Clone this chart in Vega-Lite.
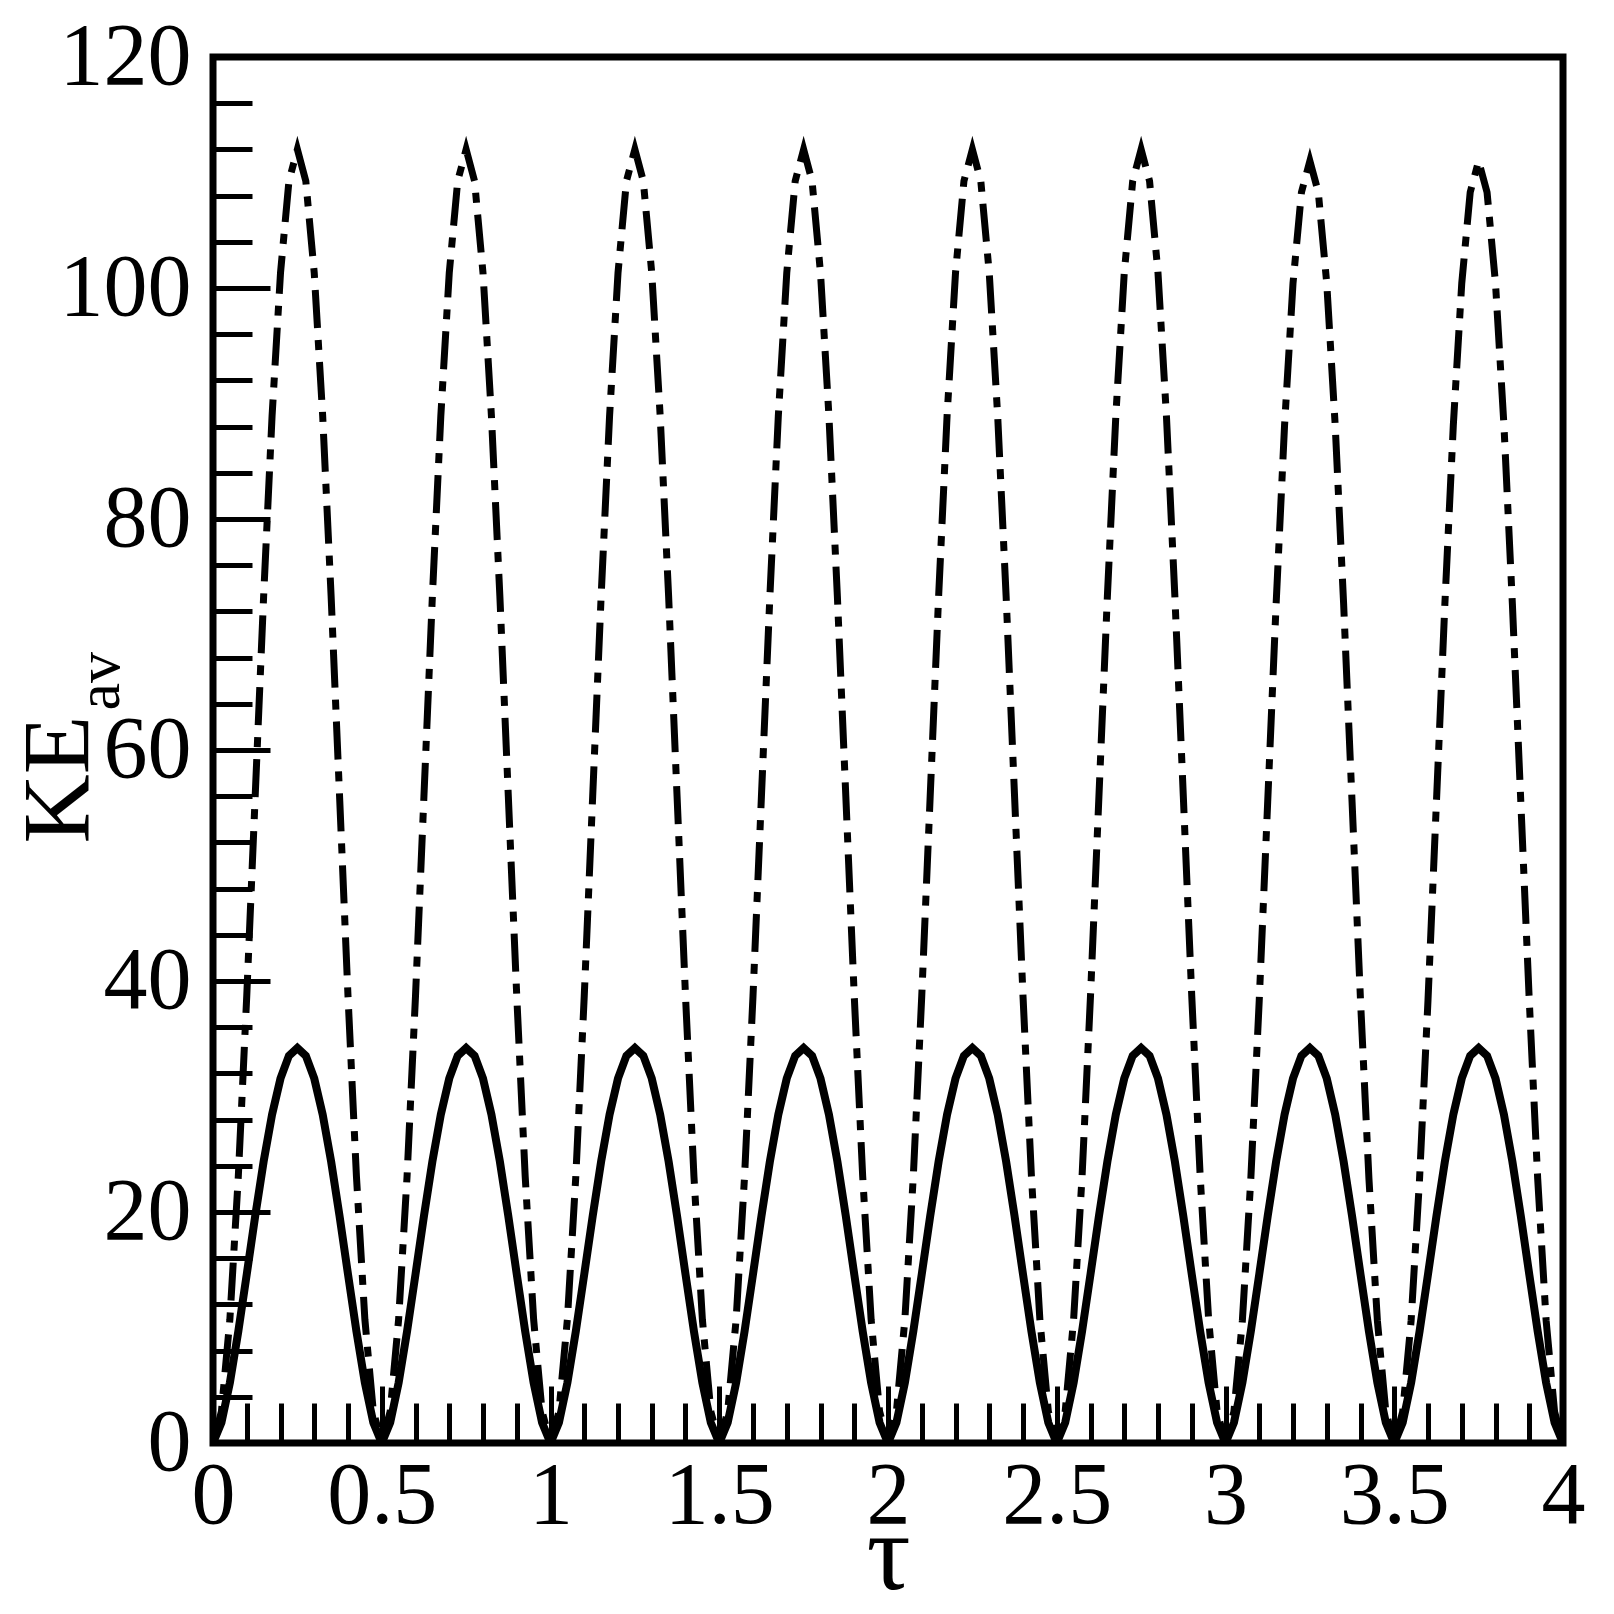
{
  "$schema": "https://vega.github.io/schema/vega-lite/v6.json",
  "width": 1350,
  "height": 1386,
  "autosize": "none",
  "padding": {"left": 213, "top": 57, "right": 51, "bottom": 171},
  "background": "white",
  "config": {
    "view": {"stroke": "black", "strokeWidth": 7},
    "font": "Liberation Serif"
  },
  "data": {
    "values": [
      {"t": 0, "s": 0, "d": 0},
      {"t": 0.025, "s": 1.76, "d": 2.74},
      {"t": 0.05, "s": 5.22, "d": 10.7},
      {"t": 0.075, "s": 9.67, "d": 23.09},
      {"t": 0.1, "s": 14.61, "d": 38.7},
      {"t": 0.125, "s": 19.64, "d": 56},
      {"t": 0.15, "s": 24.37, "d": 73.3},
      {"t": 0.175, "s": 28.43, "d": 88.91},
      {"t": 0.2, "s": 31.56, "d": 101.3},
      {"t": 0.225, "s": 33.53, "d": 109.26},
      {"t": 0.25, "s": 34.2, "d": 112},
      {"t": 0.275, "s": 33.53, "d": 109.26},
      {"t": 0.3, "s": 31.56, "d": 101.3},
      {"t": 0.325, "s": 28.43, "d": 88.91},
      {"t": 0.35, "s": 24.37, "d": 73.3},
      {"t": 0.375, "s": 19.64, "d": 56},
      {"t": 0.4, "s": 14.61, "d": 38.7},
      {"t": 0.425, "s": 9.67, "d": 23.09},
      {"t": 0.45, "s": 5.22, "d": 10.7},
      {"t": 0.475, "s": 1.76, "d": 2.74},
      {"t": 0.5, "s": 0, "d": 0},
      {"t": 0.525, "s": 1.76, "d": 2.74},
      {"t": 0.55, "s": 5.22, "d": 10.7},
      {"t": 0.575, "s": 9.67, "d": 23.09},
      {"t": 0.6, "s": 14.61, "d": 38.7},
      {"t": 0.625, "s": 19.64, "d": 56},
      {"t": 0.65, "s": 24.37, "d": 73.3},
      {"t": 0.675, "s": 28.43, "d": 88.91},
      {"t": 0.7, "s": 31.56, "d": 101.3},
      {"t": 0.725, "s": 33.53, "d": 109.26},
      {"t": 0.75, "s": 34.2, "d": 112},
      {"t": 0.775, "s": 33.53, "d": 109.26},
      {"t": 0.8, "s": 31.56, "d": 101.3},
      {"t": 0.825, "s": 28.43, "d": 88.91},
      {"t": 0.85, "s": 24.37, "d": 73.3},
      {"t": 0.875, "s": 19.64, "d": 56},
      {"t": 0.9, "s": 14.61, "d": 38.7},
      {"t": 0.925, "s": 9.67, "d": 23.09},
      {"t": 0.95, "s": 5.22, "d": 10.7},
      {"t": 0.975, "s": 1.76, "d": 2.74},
      {"t": 1, "s": 0, "d": 0},
      {"t": 1.025, "s": 1.76, "d": 2.74},
      {"t": 1.05, "s": 5.22, "d": 10.7},
      {"t": 1.075, "s": 9.67, "d": 23.09},
      {"t": 1.1, "s": 14.61, "d": 38.7},
      {"t": 1.125, "s": 19.64, "d": 56},
      {"t": 1.15, "s": 24.37, "d": 73.3},
      {"t": 1.175, "s": 28.43, "d": 88.91},
      {"t": 1.2, "s": 31.56, "d": 101.3},
      {"t": 1.225, "s": 33.53, "d": 109.26},
      {"t": 1.25, "s": 34.2, "d": 112},
      {"t": 1.275, "s": 33.53, "d": 109.26},
      {"t": 1.3, "s": 31.56, "d": 101.3},
      {"t": 1.325, "s": 28.43, "d": 88.91},
      {"t": 1.35, "s": 24.37, "d": 73.3},
      {"t": 1.375, "s": 19.64, "d": 56},
      {"t": 1.4, "s": 14.61, "d": 38.7},
      {"t": 1.425, "s": 9.67, "d": 23.09},
      {"t": 1.45, "s": 5.22, "d": 10.7},
      {"t": 1.475, "s": 1.76, "d": 2.74},
      {"t": 1.5, "s": 0, "d": 0},
      {"t": 1.525, "s": 1.76, "d": 2.74},
      {"t": 1.55, "s": 5.22, "d": 10.7},
      {"t": 1.575, "s": 9.67, "d": 23.09},
      {"t": 1.6, "s": 14.61, "d": 38.7},
      {"t": 1.625, "s": 19.64, "d": 56},
      {"t": 1.65, "s": 24.37, "d": 73.3},
      {"t": 1.675, "s": 28.43, "d": 88.91},
      {"t": 1.7, "s": 31.56, "d": 101.3},
      {"t": 1.725, "s": 33.53, "d": 109.26},
      {"t": 1.75, "s": 34.2, "d": 112},
      {"t": 1.775, "s": 33.53, "d": 109.26},
      {"t": 1.8, "s": 31.56, "d": 101.3},
      {"t": 1.825, "s": 28.43, "d": 88.91},
      {"t": 1.85, "s": 24.37, "d": 73.3},
      {"t": 1.875, "s": 19.64, "d": 56},
      {"t": 1.9, "s": 14.61, "d": 38.7},
      {"t": 1.925, "s": 9.67, "d": 23.09},
      {"t": 1.95, "s": 5.22, "d": 10.7},
      {"t": 1.975, "s": 1.76, "d": 2.74},
      {"t": 2, "s": 0, "d": 0},
      {"t": 2.025, "s": 1.76, "d": 2.74},
      {"t": 2.05, "s": 5.22, "d": 10.7},
      {"t": 2.075, "s": 9.67, "d": 23.09},
      {"t": 2.1, "s": 14.61, "d": 38.7},
      {"t": 2.125, "s": 19.64, "d": 56},
      {"t": 2.15, "s": 24.37, "d": 73.3},
      {"t": 2.175, "s": 28.43, "d": 88.91},
      {"t": 2.2, "s": 31.56, "d": 101.3},
      {"t": 2.225, "s": 33.53, "d": 109.26},
      {"t": 2.25, "s": 34.2, "d": 112},
      {"t": 2.275, "s": 33.53, "d": 109.26},
      {"t": 2.3, "s": 31.56, "d": 101.3},
      {"t": 2.325, "s": 28.43, "d": 88.91},
      {"t": 2.35, "s": 24.37, "d": 73.3},
      {"t": 2.375, "s": 19.64, "d": 56},
      {"t": 2.4, "s": 14.61, "d": 38.7},
      {"t": 2.425, "s": 9.67, "d": 23.09},
      {"t": 2.45, "s": 5.22, "d": 10.7},
      {"t": 2.475, "s": 1.76, "d": 2.74},
      {"t": 2.5, "s": 0, "d": 0},
      {"t": 2.525, "s": 1.76, "d": 2.74},
      {"t": 2.55, "s": 5.22, "d": 10.7},
      {"t": 2.575, "s": 9.67, "d": 23.09},
      {"t": 2.6, "s": 14.61, "d": 38.7},
      {"t": 2.625, "s": 19.64, "d": 56},
      {"t": 2.65, "s": 24.37, "d": 73.3},
      {"t": 2.675, "s": 28.43, "d": 88.91},
      {"t": 2.7, "s": 31.56, "d": 101.3},
      {"t": 2.725, "s": 33.53, "d": 109.26},
      {"t": 2.75, "s": 34.2, "d": 112},
      {"t": 2.775, "s": 33.53, "d": 109.26},
      {"t": 2.8, "s": 31.56, "d": 101.3},
      {"t": 2.825, "s": 28.43, "d": 88.91},
      {"t": 2.85, "s": 24.37, "d": 73.3},
      {"t": 2.875, "s": 19.64, "d": 56},
      {"t": 2.9, "s": 14.61, "d": 38.7},
      {"t": 2.925, "s": 9.67, "d": 23.09},
      {"t": 2.95, "s": 5.22, "d": 10.7},
      {"t": 2.975, "s": 1.76, "d": 2.74},
      {"t": 3, "s": 0, "d": 0},
      {"t": 3.025, "s": 1.76, "d": 2.72},
      {"t": 3.05, "s": 5.22, "d": 10.6},
      {"t": 3.075, "s": 9.67, "d": 22.88},
      {"t": 3.1, "s": 14.61, "d": 38.35},
      {"t": 3.125, "s": 19.64, "d": 55.5},
      {"t": 3.15, "s": 24.37, "d": 72.65},
      {"t": 3.175, "s": 28.43, "d": 88.12},
      {"t": 3.2, "s": 31.56, "d": 100.4},
      {"t": 3.225, "s": 33.53, "d": 108.28},
      {"t": 3.25, "s": 34.2, "d": 111},
      {"t": 3.275, "s": 33.53, "d": 108.28},
      {"t": 3.3, "s": 31.56, "d": 100.4},
      {"t": 3.325, "s": 28.43, "d": 88.12},
      {"t": 3.35, "s": 24.37, "d": 72.65},
      {"t": 3.375, "s": 19.64, "d": 55.5},
      {"t": 3.4, "s": 14.61, "d": 38.35},
      {"t": 3.425, "s": 9.67, "d": 22.88},
      {"t": 3.45, "s": 5.22, "d": 10.6},
      {"t": 3.475, "s": 1.76, "d": 2.72},
      {"t": 3.5, "s": 0, "d": 0},
      {"t": 3.525, "s": 1.76, "d": 2.72},
      {"t": 3.55, "s": 5.22, "d": 10.6},
      {"t": 3.575, "s": 9.67, "d": 22.88},
      {"t": 3.6, "s": 14.61, "d": 38.35},
      {"t": 3.625, "s": 19.64, "d": 55.5},
      {"t": 3.65, "s": 24.37, "d": 72.65},
      {"t": 3.675, "s": 28.43, "d": 88.12},
      {"t": 3.7, "s": 31.56, "d": 100.4},
      {"t": 3.725, "s": 33.53, "d": 108.28},
      {"t": 3.75, "s": 34.2, "d": 111},
      {"t": 3.775, "s": 33.53, "d": 108.28},
      {"t": 3.8, "s": 31.56, "d": 100.4},
      {"t": 3.825, "s": 28.43, "d": 88.12},
      {"t": 3.85, "s": 24.37, "d": 72.65},
      {"t": 3.875, "s": 19.64, "d": 55.5},
      {"t": 3.9, "s": 14.61, "d": 38.35},
      {"t": 3.925, "s": 9.67, "d": 22.88},
      {"t": 3.95, "s": 5.22, "d": 10.6},
      {"t": 3.975, "s": 1.76, "d": 2.72},
      {"t": 4, "s": 0, "d": 0}
    ]
  },
  "layer": [
    {
      "mark": {"type": "line", "stroke": "black", "strokeWidth": 7, "strokeDash": [38, 12, 10, 12], "strokeCap": "butt", "clip": true},
      "encoding": {
        "x": {
          "field": "t", "type": "quantitative",
          "scale": {"domain": [0, 4], "nice": false},
          "axis": {
            "orient": "bottom",
            "values": [0, 0.5, 1, 1.5, 2, 2.5, 3, 3.5, 4],
            "format": "~g",
            "grid": false, "domain": false,
            "tickSize": -57, "tickWidth": 5, "tickColor": "black",
            "labelFont": "Liberation Serif", "labelFontSize": 88, "labelColor": "black",
            "labelPadding": 66, "labelFlush": false, "labelOverlap": false,
            "title": "τ", "titleFont": "Liberation Serif", "titleFontSize": 110,
            "titleFontWeight": "normal", "titleColor": "black",
            "titleY": 145, "titleBaseline": "alphabetic"
          }
        },
        "y": {
          "field": "d", "type": "quantitative",
          "scale": {"domain": [0, 120], "nice": false},
          "axis": {
            "orient": "left",
            "values": [0, 20, 40, 60, 80, 100, 120],
            "grid": false, "domain": false,
            "tickSize": -57, "tickWidth": 5, "tickColor": "black",
            "labelFont": "Liberation Serif", "labelFontSize": 88, "labelColor": "black",
            "labelPadding": 79, "labelOverlap": false, "labelFlush": false,
            "title": "KE", "titleFont": "Liberation Serif", "titleFontSize": 96,
            "titleFontWeight": "normal", "titleColor": "black",
            "titleX": -125, "titleY": 786, "titleAlign": "left", "titleBaseline": "alphabetic", "titleAngle": 270
          }
        }
      }
    },
    {
      "mark": {"type": "line", "stroke": "black", "strokeWidth": 8, "clip": true},
      "encoding": {
        "x": {
          "field": "t", "type": "quantitative",
          "scale": {"domain": [0, 4], "nice": false},
          "axis": {
            "orient": "bottom",
            "values": [0, 0.1, 0.2, 0.3, 0.4, 0.5, 0.6, 0.7, 0.8, 0.9, 1, 1.1, 1.2, 1.3, 1.4, 1.5, 1.6, 1.7, 1.8, 1.9, 2, 2.1, 2.2, 2.3, 2.4, 2.5, 2.6, 2.7, 2.8, 2.9, 3, 3.1, 3.2, 3.3, 3.4, 3.5, 3.6, 3.7, 3.8, 3.9, 4],
            "grid": false, "domain": false, "labels": false, "title": null,
            "tickSize": -40, "tickWidth": 5, "tickColor": "black"
          }
        },
        "y": {
          "field": "s", "type": "quantitative",
          "scale": {"domain": [0, 120], "nice": false},
          "axis": {
            "orient": "left",
            "values": [4, 8, 12, 16, 24, 28, 32, 36, 44, 48, 52, 56, 64, 68, 72, 76, 84, 88, 92, 96, 104, 108, 112, 116],
            "grid": false, "domain": false, "labels": false,
            "tickSize": -39, "tickWidth": 5, "tickColor": "black",
            "title": "av", "titleFont": "Liberation Serif", "titleFontSize": 62,
            "titleFontWeight": "normal", "titleColor": "black",
            "titleX": -95, "titleY": 653, "titleAlign": "left", "titleBaseline": "alphabetic", "titleAngle": 270
          }
        }
      }
    }
  ],
  "resolve": {"axis": {"x": "independent", "y": "independent"}}
}
